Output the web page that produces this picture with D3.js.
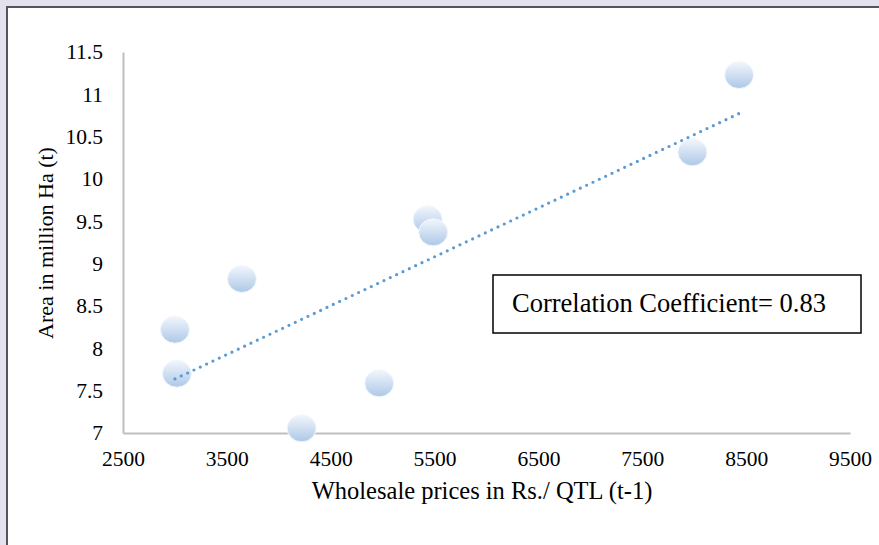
<!DOCTYPE html>
<html lang="en">
<head>
<meta charset="utf-8" />
<title>Area vs wholesale prices</title>
<script src="https://d3js.org/d3.v7.min.js"></script>
<style>
    body { margin: 0; background: #e4e1ef; }
    svg { display: block; }
    .tick text, .ttl { font-family: "Liberation Serif", "Times New Roman", serif; fill: #000; }
</style>
</head>
<body>
<svg width="879" height="545"></svg>
<script>
// values
var prices = [3000, 3019, 3645, 4220, 4967, 5433, 5487, 7983, 8432];
var area   = [8.22, 7.70, 8.82, 7.055, 7.587, 9.524, 9.37, 10.315, 11.228];
var xTicks = [2500, 3500, 4500, 5500, 6500, 7500, 8500, 9500];
var yTicks = [7, 7.5, 8, 8.5, 9, 9.5, 10, 10.5, 11, 11.5];
var xTitle = "Wholesale prices in Rs./ QTL (t-1)";
var yTitle = "Area in million Ha (t)";
var boxText = "Correlation Coefficient= 0.83";

var svg = d3.select("svg");

// outer frame
svg.append("rect").attr("x", 7).attr("y", 7).attr("width", 880).attr("height", 560)
    .attr("fill", "#fff").attr("stroke", "#55535e").attr("stroke-width", 2);

var x = d3.scaleLinear().domain([2500, 9500]).range([123, 850]);
var y = d3.scaleLinear().domain([7, 11.5]).range([433, 52]);

var defs = svg.append("defs");
var grad = defs.append("linearGradient").attr("id", "bub")
    .attr("x1", 0).attr("y1", 0).attr("x2", 0).attr("y2", 1);
grad.append("stop").attr("offset", "0%").attr("stop-color", "#f2f6fc");
grad.append("stop").attr("offset", "100%").attr("stop-color", "#adc8e7");

// axes
var xAxis = svg.append("g").attr("transform", "translate(0,433)")
    .call(d3.axisBottom(x).tickValues(xTicks).tickSize(0).tickPadding(18).tickFormat(d3.format("d")));
var yAxis = svg.append("g").attr("transform", "translate(123,0)")
    .call(d3.axisLeft(y).tickValues(yTicks).tickSize(0).tickPadding(20).tickFormat(function (d) { return d; }));
[xAxis, yAxis].forEach(function (a) {
    a.select(".domain").attr("stroke", "#bfbfbf").attr("stroke-width", 2);
    a.selectAll(".tick text").attr("font-size", 21.5).attr("font-family", "Liberation Serif");
});

// markers
svg.append("g").selectAll("ellipse")
    .data(prices.map(function (p, i) { return [p, area[i]]; }))
    .enter().append("ellipse")
        .attr("cx", function (d) { return x(d[0]); })
        .attr("cy", function (d) { return y(d[1]); })
        .attr("rx", 14.5).attr("ry", 13.5)
        .attr("fill", "url(#bub)")
        .attr("stroke", "#f4f8fd").attr("stroke-width", 1);

// linear trend line from the points
var mx = d3.mean(prices), my = d3.mean(area);
var sxy = d3.sum(prices, function (p, i) { return (p - mx) * (area[i] - my); });
var sxx = d3.sum(prices, function (p) { return (p - mx) * (p - mx); });
var slope = sxy / sxx, icpt = my - slope * mx;
var ext = d3.extent(prices);
svg.append("line")
    .attr("x1", x(ext[0])).attr("y1", y(icpt + slope * ext[0]))
    .attr("x2", x(ext[1])).attr("y2", y(icpt + slope * ext[1]))
    .attr("stroke", "#5b9bd5").attr("stroke-width", 3.2)
    .attr("stroke-linecap", "round").attr("stroke-dasharray", "0 7");

// axis titles
svg.append("text").attr("class", "ttl").attr("x", 482).attr("y", 499)
    .attr("text-anchor", "middle").attr("font-size", 24.5).text(xTitle);
svg.append("text").attr("class", "ttl")
    .attr("transform", "translate(53,243) rotate(-90)")
    .attr("text-anchor", "middle").attr("font-size", 22).text(yTitle);

// correlation box
svg.append("rect").attr("x", 493).attr("y", 275).attr("width", 368).attr("height", 58)
    .attr("fill", "#fff").attr("stroke", "#000").attr("stroke-width", 1.5);
svg.append("text").attr("class", "ttl").attr("x", 669).attr("y", 312)
    .attr("text-anchor", "middle").attr("font-size", 26.5).text(boxText);
</script>
</body>
</html>
